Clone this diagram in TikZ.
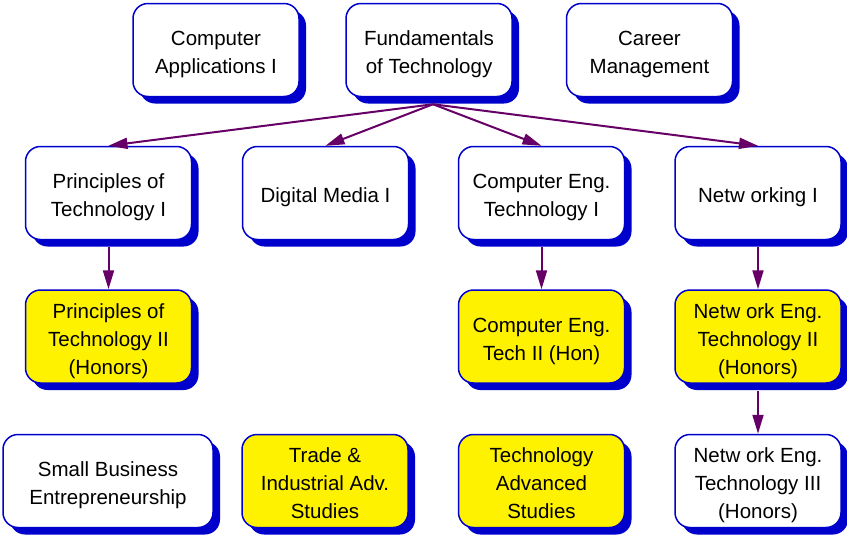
\documentclass[tikz,border=0pt]{standalone}
\usepackage{fontspec}
\setmainfont{Liberation Sans}
\usetikzlibrary{shadows,arrows.meta,calc}
\definecolor{bblue}{HTML}{0000CC}
\definecolor{apurple}{HTML}{660066}
\newcommand\bt[1]{\raisebox{-4pt}[\height][\depth]{\begin{tabular}{@{}c@{}}#1\end{tabular}}}
\begin{document}
\begin{tikzpicture}[x=1pt,y=-1pt,
 box/.style={draw=bblue, line width=1.5pt, fill=white, rounded corners=15pt,
   minimum width=166pt, minimum height=93pt, inner sep=0pt,
   font=\fontsize{20.5}{28}\selectfont,
   drop shadow={shadow xshift=7pt, shadow yshift=-7pt, fill=bblue, opacity=1}},
 ybox/.style={box, fill=yellow},
 conn/.style={draw=apurple, line width=2pt, -{Triangle[length=19pt,width=11pt]}}]
\useasboundingbox (0,0) rectangle (847,536);
% row 1
\node[box] (ca)   at (216,50)   {\bt{Computer\\Applications I}};
\node[box] (fund) at (429,50)   {\bt{Fundamentals\\of Technology}};
\node[box] (car)  at (649.5,50) {\bt{Career\\Management}};
% row 2
\node[box] (pt1) at (108.5,193) {\bt{Principles of\\Technology I}};
\node[box] (dm1) at (325.5,193) {\bt{Digital Media I}};
\node[box] (ce1) at (541.5,193) {\bt{Computer Eng.\\Technology I}};
\node[box] (nw1) at (758,193)   {\bt{Netw orking I}};
% row 3
\node[ybox] (pt2) at (108.5,336.5) {\bt{Principles of\\Technology II\\(Honors)}};
\node[ybox] (ce2) at (541.5,336.5) {\bt{Computer Eng.\\Tech II (Hon)}};
\node[ybox] (nw2) at (758,336.5)   {\bt{Netw ork Eng.\\Technology II\\(Honors)}};
% row 4
\node[box, minimum width=210pt] (sbe) at (108,481) {\bt{Small Business\\Entrepreneurship}};
\node[ybox] (tia) at (325,481)   {\bt{Trade \&\\Industrial Adv.\\Studies}};
\node[ybox] (tas) at (541.5,481) {\bt{Technology\\Advanced\\Studies}};
\node[box]  (nw3) at (758,481)   {\bt{Netw ork Eng.\\Technology III\\(Honors)}};
% connectors
\coordinate (fo) at ($(fund.south)+(4,7)$);
\foreach \t in {pt1,dm1,ce1,nw1} \draw[conn] (fo) -- (\t.north);
\draw[conn] ($(pt1.south)+(0,7)$) -- (pt2.north);
\draw[conn] ($(ce1.south)+(0,7)$) -- (ce2.north);
\draw[conn] ($(nw1.south)+(0,7)$) -- (nw2.north);
\draw[conn] ($(nw2.south)+(0,7)$) -- (nw3.north);
\end{tikzpicture}
\end{document}
